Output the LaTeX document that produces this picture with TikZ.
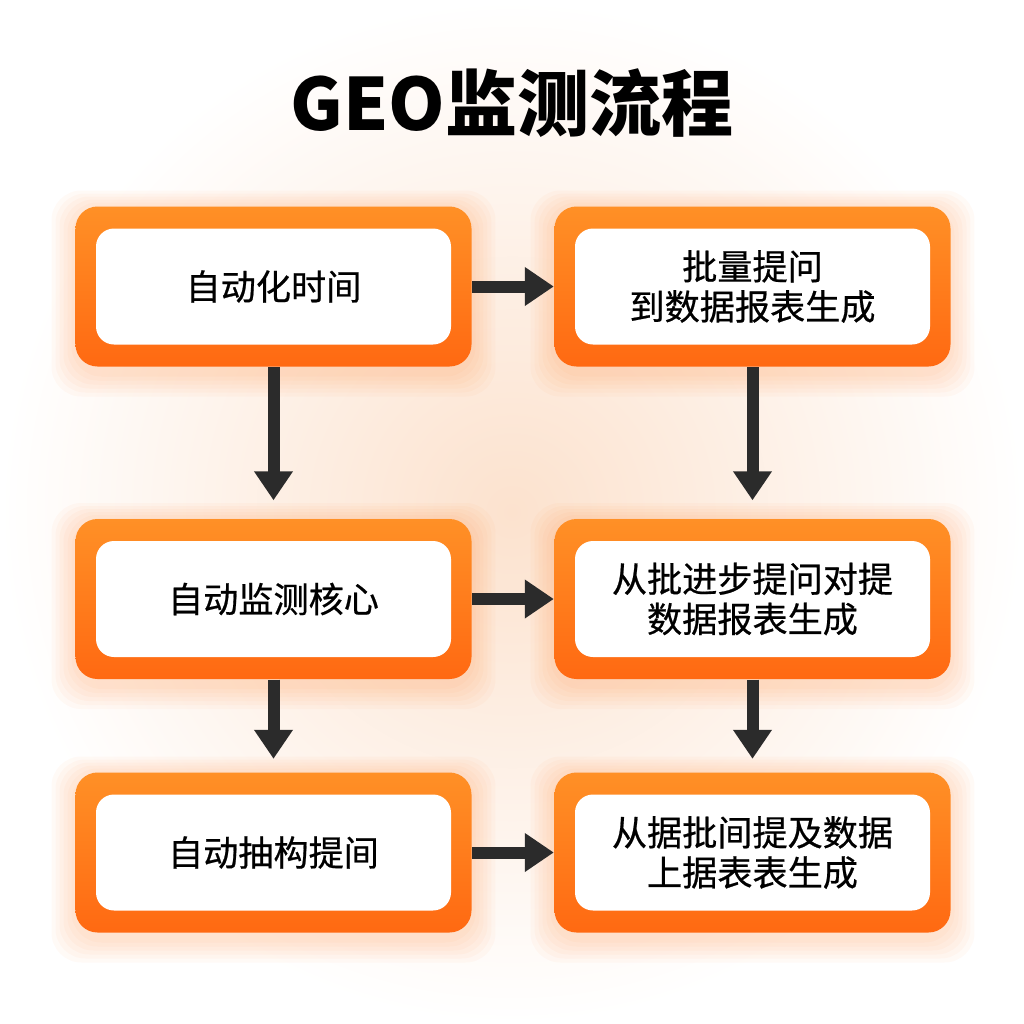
\documentclass[tikz,border=0pt]{standalone}
\usepackage{fontspec}
\setmainfont{Noto Sans CJK SC}
\newfontfamily\boxfont[FakeBold=0.6]{Noto Sans CJK SC}
\usepackage{tikz}
\usetikzlibrary{arrows.meta}

\definecolor{boxtop}{HTML}{FF9026}
\definecolor{boxbot}{HTML}{FF6912}
\definecolor{arrowgray}{HTML}{2B2B2B}
\definecolor{peach}{HTML}{FCE2CE}
\definecolor{glow}{HTML}{FF7A1A}

\tikzset{
  outerbox/.style={rounded corners=0.22cm, minimum width=3.96cm, minimum height=1.6cm,
    top color=boxtop, bottom color=boxbot, inner sep=0pt},
  innerbox/.style={rounded corners=0.18cm, fill=white, minimum width=3.55cm, minimum height=1.16cm,
    align=center, inner sep=0pt, font=\boxfont\fontsize{10}{11.4}\selectfont},
  flowarrow/.style={draw=arrowgray, line width=0.12cm, -{Triangle[length=0.29cm, width=0.37cm]}}
}

\begin{document}
\begin{tikzpicture}
  \useasboundingbox (0,0) rectangle (10.24,-10.24);
  \shade[inner color=peach, outer color=white] (0,0) rectangle (10.24,-10.24);

  % title
  \node (title) at (5.12,-1.03) {\fontsize{20.5}{24}\selectfont\bfseries GEO监测流程};

  % soft glow behind boxes
  \foreach \x/\y in {2.735/-2.865, 7.525/-2.865, 2.735/-5.99, 7.525/-5.99, 2.735/-8.525, 7.525/-8.525}
    \foreach \g in {1,...,6}
      \fill[glow, opacity=0.035, rounded corners=0.3cm]
        (\x-1.98-\g*0.04, \y-0.8-0.06-\g*0.04) rectangle (\x+1.98+\g*0.04, \y+0.8-0.02+\g*0.03);

  % left column
  \node[outerbox] (a1) at (2.735,-2.865) {};
  \node[innerbox] (a1t) at (a1.center) {自动化时间};
  \node[outerbox] (a2) at (2.735,-5.99) {};
  \node[innerbox] (a2t) at (a2.center) {自动监测核心};
  \node[outerbox] (a3) at (2.735,-8.525) {};
  \node[innerbox] (a3t) at (a3.center) {自动抽构提间};

  % right column
  \node[outerbox] (b1) at (7.525,-2.865) {};
  \node[innerbox] (b1t) at (b1.center) {批量提问\\到数据报表生成};
  \node[outerbox] (b2) at (7.525,-5.99) {};
  \node[innerbox] (b2t) at (b2.center) {从批进步提问对提\\数据报表生成};
  \node[outerbox] (b3) at (7.525,-8.525) {};
  \node[innerbox] (b3t) at (b3.center) {从据批间提及数据\\上据表表生成};

  % arrows
  \draw[flowarrow] (a1.east) -- (b1.west);
  \draw[flowarrow] (a2.east) -- (b2.west);
  \draw[flowarrow] (a3.east) -- (b3.west);
  \draw[flowarrow, shorten >=0.18cm] (a1.south) -- (a2.north);
  \draw[flowarrow, shorten >=0.18cm] (b1.south) -- (b2.north);
  \draw[flowarrow, shorten >=0.13cm] (a2.south) -- (a3.north);
  \draw[flowarrow, shorten >=0.13cm] (b2.south) -- (b3.north);
\end{tikzpicture}
\end{document}
